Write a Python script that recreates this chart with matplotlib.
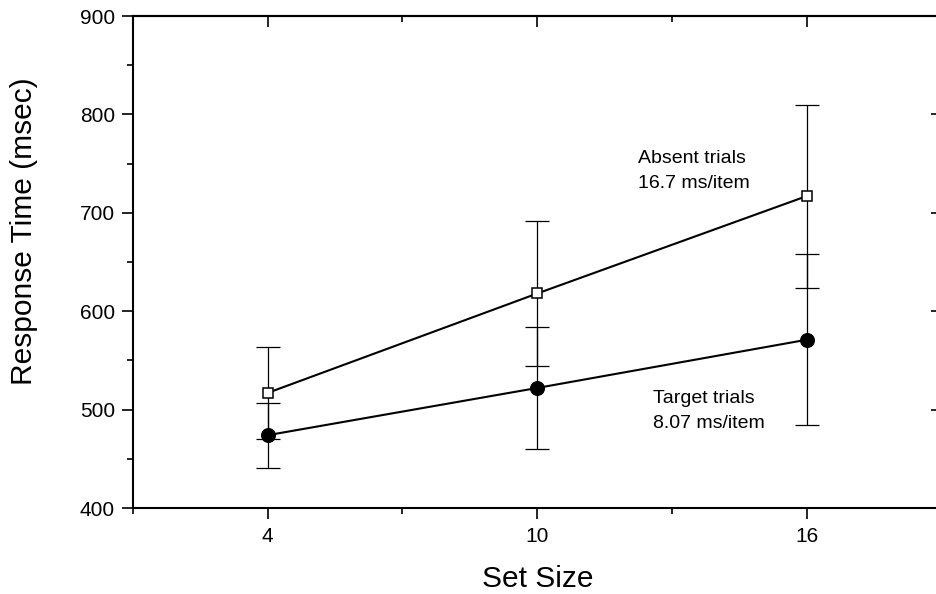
import matplotlib
matplotlib.use("Agg")
import matplotlib.pyplot as plt
from matplotlib.ticker import MultipleLocator, FixedLocator

plt.rcParams['font.family'] = ['Liberation Sans', 'DejaVu Sans']

set_size = [4, 10, 16]
absent_rt = [517, 618, 717]
absent_err = [47, 74, 93]
target_rt = [474, 522, 571]
target_err = [33, 62, 87]

x_ticks = [4, 10, 16]
y_ticks = [400, 500, 600, 700, 800, 900]

fig = plt.figure(figsize=(9.37, 5.94), dpi=100)
ax = fig.add_axes([133/937, 1-508/594, (941.5-133)/937, (508-16)/594])

ax.set_xlim(1, 19)
ax.set_ylim(400, 900)

# connecting lines
ax.plot(set_size, absent_rt, color='black', lw=1.5, zorder=2)
ax.plot(set_size, target_rt, color='black', lw=1.5, zorder=2)

# error bars
ax.errorbar(set_size, absent_rt, yerr=absent_err, fmt='none', ecolor='black',
            elinewidth=0.9, capsize=8.3, capthick=0.9, zorder=3)
ax.errorbar(set_size, target_rt, yerr=target_err, fmt='none', ecolor='black',
            elinewidth=0.9, capsize=8.3, capthick=0.9, zorder=3)

# markers
ax.plot(set_size, absent_rt, linestyle='none', marker='s', markersize=7.8,
        markerfacecolor='white', markeredgecolor='black', markeredgewidth=1.1, zorder=4)
ax.plot(set_size, target_rt, linestyle='none', marker='o', markersize=9.8,
        markerfacecolor='black', markeredgecolor='black', zorder=4)

# ticks
ax.xaxis.set_major_locator(FixedLocator(x_ticks))
ax.xaxis.set_minor_locator(FixedLocator([1, 7, 13, 19]))
ax.yaxis.set_major_locator(FixedLocator(y_ticks))
ax.yaxis.set_minor_locator(MultipleLocator(50))
ax.tick_params(which='major', direction='out', length=8, width=1.2, labelsize=15, pad=6)
ax.tick_params(which='minor', direction='out', length=4, width=1.2)
ax.tick_params(axis='y', which='major', pad=5)

for s in ax.spines.values():
    s.set_linewidth(1.5)

secx = ax.secondary_xaxis('top')
secx.xaxis.set_major_locator(FixedLocator(x_ticks))
secx.xaxis.set_minor_locator(FixedLocator([7, 13]))
secx.tick_params(which='major', direction='in', length=8, width=1.2, labeltop=False)
secx.tick_params(which='minor', direction='in', length=4, width=1.2)
secx.spines['top'].set_linewidth(1.5)

secy = ax.secondary_yaxis('right')
secy.yaxis.set_major_locator(FixedLocator(y_ticks))
secy.yaxis.set_minor_locator(MultipleLocator(50))
secy.tick_params(which='major', direction='in', length=8, width=1.2, labelright=False)
secy.tick_params(which='minor', direction='in', length=4, width=0.6)
secy.spines['right'].set_linewidth(1.5)

# annotations
ax.text(12.25, 750.6, 'Absent trials', fontsize=14, ha='left', va='baseline')
ax.text(12.25, 725.2, '16.7 ms/item', fontsize=14, ha='left', va='baseline')
ax.text(12.57, 506.7, 'Target trials', fontsize=14, ha='left', va='baseline')
ax.text(12.57, 481.3, '8.07 ms/item', fontsize=14, ha='left', va='baseline')

# axis labels
fig.text(538/937, 1-587/594, 'Set Size', fontsize=21.5, ha='center', va='baseline')
fig.text(24/937, 1-231/594, 'Response Time (msec)', fontsize=21.5, rotation=90,
         ha='center', va='center')

fig.savefig('out.png', dpi=100)
